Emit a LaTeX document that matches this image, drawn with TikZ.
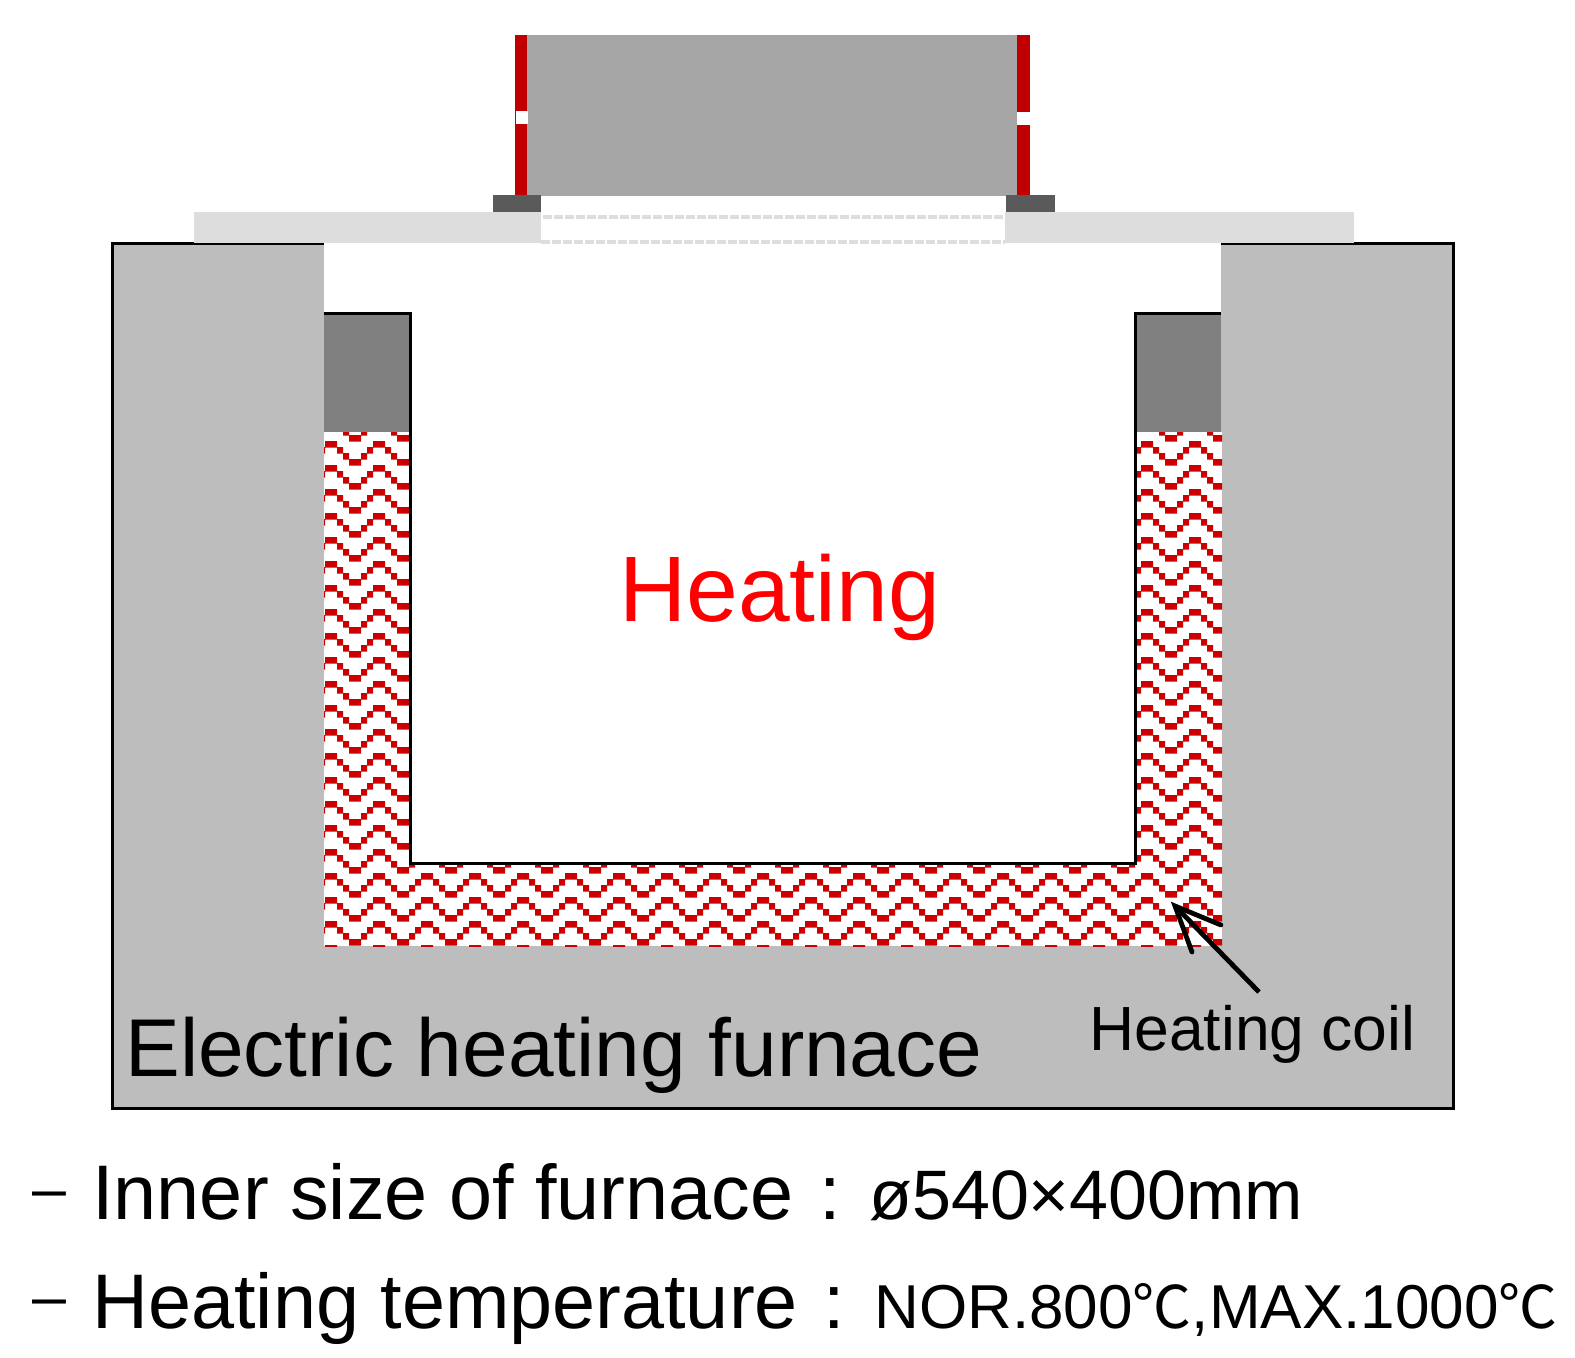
\documentclass[tikz,border=0pt]{standalone}
\usepackage{fontspec}
\setmainfont{Liberation Sans}
\newfontfamily\cjkfont{Noto Sans CJK KR}
\newcommand{\fs}[1]{\fontsize{#1}{#1}\selectfont}
\definecolor{furnace}{HTML}{BDBDBD}
\definecolor{lidgray}{HTML}{DDDDDD}
\definecolor{bodygray}{HTML}{A6A6A6}
\definecolor{coilred}{HTML}{CC0000}
\definecolor{bandred}{HTML}{C00000}
\definecolor{darkblock}{HTML}{5A5A5A}
\definecolor{insgray}{HTML}{808080}
\tikzset{
  px/.style={x=0.5pt,y=-0.5pt},
  label/.style={inner sep=0pt,anchor=base west,text=black},
  outline/.style={draw=black,line width=1.5pt}
}
\begin{document}
\begin{tikzpicture}[px]
\useasboundingbox (0,0) rectangle (1575,1357);
\fill[white] (0,0) rectangle (1575,1357);
% top body
\fill[bodygray] (527,35) rectangle (1017,196);
\fill[bandred] (515,35) rectangle (527,195);
\fill[bandred] (1017,35) rectangle (1030,195);
\fill[white] (516,111) rectangle (528,124);
\fill[white] (1017,112) rectangle (1030,125);
% furnace
\fill[furnace] (112,243) rectangle (1454,1109);
\draw[outline] (324,243.5) -- (112.5,243.5) -- (112.5,1108.5) -- (1453.5,1108.5) -- (1453.5,243.5) -- (1221,243.5);
\fill[lidgray] (194,212) rectangle (1354,243);
\fill[white] (324,243) rectangle (1221,313);
\fill[white] (541,196) rectangle (1005,243);
\fill[darkblock] (493,195) rectangle (541,212);
\fill[darkblock] (1006,195) rectangle (1055,212);
\draw[lidgray,line width=2pt,dash pattern=on 4.5pt off 1pt] (543,217) -- (1005,217);
\draw[black,line width=1pt,dash pattern=on 4.5pt off 1pt] (541,243) -- (1005,243);
\draw[lidgray,line width=2pt,dash pattern=on 4.7pt off 0.8pt] (541,242) -- (1005,242);
\fill[insgray] (324,313) rectangle (410,432);
\fill[insgray] (1135,313) rectangle (1221,432);
% coil
\fill[white] (324,432) rectangle (1222,946);
\begin{scope}
\clip (324,432) rectangle (1222,946);
\fill[coilred]
\foreach \r in {-1,...,21}{\foreach \c in {-1,...,18}{
  [xshift={\c*24pt},yshift={-\r*12pt}]
  (325,441) rectangle +(12,6.6)
  (337,447) rectangle +(6,6.6)
  (343,453) rectangle +(6,6.6)
  (349,459) rectangle +(12,6.6)
  (361,453) rectangle +(6,6.6)
  (367,447) rectangle +(6,6.6)
}};
\end{scope}
\fill[white] (411,313) rectangle (1134,864);
% outlines
\draw[outline] (324,313.5) -- (410.5,313.5) -- (410.5,863.5) -- (1135,863.5) -- (1135,313.5) -- (1221,313.5);
% texts
\node[label,text=red] (heat) at (619,621) {\fs{46.5}Heating};
\node[label] (furn) at (125,1076) {\fs{41}Electric heating furnace};
\node[label] (coil) at (1089,1050) {\fs{31.2}Heating coil};
\node[label] (dash1) at (32,1209) {\fs{30.5}–};
\node[label] (inner) at (92,1219) {\fs{38.7}Inner size of furnace};
\node[label] (col1) at (819,1219) {\fs{38.7}:};
\node[label] (size) at (869,1219) {\fs{35}ø540×400mm};
\node[label] (dash2) at (32,1317) {\fs{30.5}–};
\node[label] (temp) at (92,1328) {\fs{38.7}Heating temperature};
\node[label] (col2) at (823,1328) {\fs{38.7}:};
\node[label] (range) at (874,1328) {\fs{31}NOR.800{\fs{29.5}\cjkfont ℃},MAX.1000{\fs{29.5}\cjkfont ℃}};
% arrow
\coordinate (tip) at (1175,906);
\coordinate (tail) at (1259,992);
\coordinate (b1) at (1221,925);
\coordinate (b2) at (1192,952);
\draw[line width=2.4pt] (tail) -- (tip);
\draw[line width=2.4pt,line cap=round] (b1) -- (tip) -- (b2);
\end{tikzpicture}
\end{document}
